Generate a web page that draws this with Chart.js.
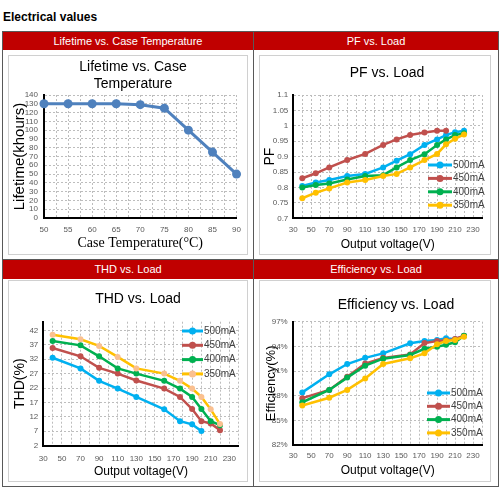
<!DOCTYPE html>
<html>
<head>
<meta charset="utf-8">
<script src="https://cdn.jsdelivr.net/npm/chart.js@4.4.1/dist/chart.umd.min.js"></script>
<style>
body{margin:0;background:#fff;font-family:"Liberation Sans",Arial,sans-serif;}
#page{position:relative;width:500px;height:500px;overflow:hidden;}
.abs{position:absolute;box-sizing:border-box;}
.heading{left:3px;top:9px;font-size:12px;font-weight:bold;color:#000;line-height:16px;}
.frame{left:2px;top:31px;width:497px;height:456px;border:1px solid #595959;}
.line{background:#595959;}
.bar{background:#c00000;color:#fff;font-size:11px;text-align:center;}
.box{border:1px solid #d0d0d0;background:#fff;}
.title{width:200px;text-align:center;font-size:14px;line-height:17px;color:#000;}
.wrap{position:absolute;}
</style>
</head>
<body>
<div id="page">
  <div class="abs heading">Electrical values</div>
  <div class="abs frame"></div>
  <div class="abs line" style="left:253px;top:31px;width:1px;height:455px;"></div>
  <div class="abs line" style="left:3px;top:259px;width:495px;height:1px;"></div>

  <div class="abs bar" style="left:3px;top:32px;width:250px;height:18px;line-height:18px;">Lifetime vs. Case Temperature</div>
  <div class="abs bar" style="left:254px;top:32px;width:244px;height:18px;line-height:18px;">PF vs. Load</div>
  <div class="abs bar" style="left:3px;top:260px;width:250px;height:19px;line-height:19px;">THD vs. Load</div>
  <div class="abs bar" style="left:254px;top:260px;width:244px;height:19px;line-height:19px;">Efficiency vs. Load</div>

  <div class="abs box" style="left:8px;top:55px;width:240px;height:200px;"></div>
  <div class="abs box" style="left:259px;top:55px;width:232px;height:200px;"></div>
  <div class="abs box" style="left:8px;top:280px;width:240px;height:202px;"></div>
  <div class="abs box" style="left:259px;top:280px;width:232px;height:202px;"></div>

  <div class="wrap" style="left:8px;top:55px;width:240px;height:200px;"><canvas id="lifeChart"></canvas></div>
  <div class="wrap" style="left:259px;top:55px;width:232px;height:200px;"><canvas id="pfChart"></canvas></div>
  <div class="wrap" style="left:8px;top:280px;width:240px;height:202px;"><canvas id="thdChart"></canvas></div>
  <div class="wrap" style="left:259px;top:280px;width:232px;height:202px;"><canvas id="effChart"></canvas></div>

  <div class="abs title" style="left:33px;top:58px;">Lifetime vs. Case<br>Temperature</div>
  <div class="abs title" style="left:287px;top:64px;">PF vs. Load</div>
  <div class="abs title" style="left:38px;top:290px;">THD vs. Load</div>
  <div class="abs title" style="left:296px;top:296px;">Efficiency vs. Load</div>
</div>

<script>
// lifetime
const lifeTemp = [50, 55, 60, 65, 70, 75, 80, 85, 90];
const lifeHours = [130, 130, 130, 130, 129, 125, 100, 75, 50];
const lifeXTicks = [50, 52.5, 55, 57.5, 60, 62.5, 65, 67.5, 70, 72.5, 75, 77.5, 80, 82.5, 85, 87.5, 90];
const lifeXLabels = [50, 55, 60, 65, 70, 75, 80, 85, 90];
const lifeYTicks = [0, 10, 20, 30, 40, 50, 60, 70, 80, 90, 100, 110, 120, 130, 140];

// shared output voltage axis
const voltTicks = [30, 40, 50, 60, 70, 80, 90, 100, 110, 120, 130, 140, 150, 160, 170, 180, 190, 200, 210, 220, 230, 240];
const voltLabels = [30, 50, 70, 90, 110, 130, 150, 170, 190, 210, 230];

const seriesNames = ["500mA", "450mA", "400mA", "350mA"];
const seriesColors = ["#00b0f0", "#c0504d", "#00b050", "#ffc000"];

// PF
const pfVolt = [40, 55, 70, 90, 110, 130, 145, 160, 176, 190, 200, 210, 220];
const pf500 = [0.805, 0.816, 0.824, 0.837, 0.844, 0.865, 0.887, 0.908, 0.938, 0.956, 0.97, 0.979, 0.984];
const pf450 = [0.830, 0.846, 0.865, 0.889, 0.909, 0.938, 0.956, 0.970, 0.978, 0.984, 0.984];
const pf400 = [0.800, 0.808, 0.813, 0.826, 0.837, 0.840, 0.865, 0.889, 0.908, 0.938, 0.956, 0.970, 0.976];
const pf350 = [0.765, 0.783, 0.797, 0.816, 0.824, 0.837, 0.844, 0.865, 0.889, 0.909, 0.940, 0.958, 0.972];
const pfTicks = [0.7, 0.75, 0.8, 0.85, 0.9, 0.95, 1, 1.05, 1.1];

// THD
const thdVolt500 = [40, 70, 90, 110, 130, 160, 177, 190, 200];
const thdVolt = [40, 70, 90, 110, 130, 160, 177, 190, 200, 210, 220];
const thd500 = [32.5, 28.8, 24.5, 21.8, 18.9, 14.6, 10.5, 9.4, 7.1];
const thd450 = [35.9, 33.0, 29.0, 27.0, 24.6, 21.8, 18.9, 14.7, 10.5, 9.7, 7.4];
const thd400 = [38.3, 36.8, 33.0, 28.8, 27.0, 24.5, 21.8, 18.9, 14.7, 10.5, 9.1];
const thd350 = [40.5, 38.9, 36.6, 32.8, 28.8, 27.0, 24.5, 21.8, 18.9, 14.6, 9.5];
const thdTicks = [2, 7, 12, 17, 22, 27, 32, 37, 42];

// Efficiency
const effVolt = [40, 70, 90, 110, 130, 160, 176, 190, 200, 210, 220];
const eff500 = [88.4, 90.6, 91.85, 92.6, 93.15, 94.37, 94.65, 94.77, 94.98, 94.86, 95.26];
const eff450 = [87.7, 88.7, 90.3, 91.9, 92.6, 93.0, 94.4, 94.65, 94.7, 94.9, 95.3];
const eff400 = [87.2, 88.7, 90.2, 91.65, 92.5, 92.95, 93.7, 93.96, 94.2, 94.5, 95.3];
const eff350 = [86.8, 87.75, 88.7, 90.1, 91.85, 92.55, 93.15, 94.25, 94.65, 94.77, 95.17];
const effTicks = [82, 85, 88, 91, 94, 97];

Chart.defaults.font.family = "'Liberation Sans', Arial, sans-serif";
Chart.defaults.color = "#595959";

// legend drawn inside the plot, like the Excel originals
const inlineLegend = {
    id: "inlineLegend",
    afterDraw(chart, args, opts){
        if(opts.x === undefined){
            return;
        }
        const ctx = chart.ctx;
        ctx.save();
        chart.data.datasets.forEach((ds, i) => {
            const y = opts.y + i * opts.rowH;
            ctx.strokeStyle = ds.borderColor;
            ctx.lineWidth = 3;
            ctx.beginPath();
            ctx.moveTo(opts.x, y);
            ctx.lineTo(opts.x + opts.len, y);
            ctx.stroke();
            ctx.fillStyle = ds.pointBackgroundColor;
            ctx.beginPath();
            ctx.arc(opts.x + opts.len / 2, y, ds.pointRadius + 0.5, 0, Math.PI * 2);
            ctx.fill();
            ctx.fillStyle = "#404040";
            ctx.font = "10px 'Liberation Sans', Arial, sans-serif";
            ctx.textAlign = "left";
            ctx.textBaseline = "middle";
            ctx.fillText(ds.label, opts.x + opts.len + 1, y);
        });
        ctx.restore();
    }
};
Chart.register(inlineLegend);

function series(label, xs, ys, color, dot, order){
    return {
        label: label,
        data: xs.map((x, i) => ({x: x, y: ys[i]})),
        borderColor: color,
        backgroundColor: color,
        pointBackgroundColor: dot || color,
        pointBorderColor: dot || color,
        borderWidth: 2.5,
        pointRadius: 3,
        pointBorderWidth: 0,
        tension: 0,
        fill: false,
        clip: false,
        order: order
    };
}

function makeChart(id, cfg){
    return new Chart(document.getElementById(id), {
        type: "line",
        data: {datasets: cfg.datasets},
        options: {
            responsive: true,
            maintainAspectRatio: false,
            animation: false,
            layout: {padding: {top: cfg.top, right: cfg.right, left: 0, bottom: 0}},
            plugins: {
                legend: {display: false},
                tooltip: {enabled: false},
                title: {display: false},
                inlineLegend: cfg.legend || {}
            },
            scales: {
                x: {
                    type: "linear",
                    min: cfg.xMin,
                    max: cfg.xMax,
                    afterBuildTicks: a => { a.ticks = cfg.xTicks.map(v => ({value: v})); },
                    afterFit: a => { a.height = cfg.xHeight; },
                    ticks: {
                        autoSkip: false,
                        maxRotation: 0,
                        padding: cfg.xTickPad,
                        font: {size: 8},
                        color: "#595959",
                        callback: v => cfg.xLabels.includes(v) ? String(v) : ""
                    },
                    grid: {color: "#bdbdbd", lineWidth: 1, drawTicks: false},
                    border: {color: "#000", width: 2, dash: [2, 2]},
                    title: {
                        display: true,
                        text: cfg.xTitle,
                        color: "#000",
                        font: cfg.xTitleFont,
                        padding: {top: 0, bottom: cfg.xTitlePad}
                    }
                },
                y: {
                    type: "linear",
                    min: cfg.yMin,
                    max: cfg.yMax,
                    afterBuildTicks: a => { a.ticks = cfg.yTicks.map(v => ({value: v})); },
                    afterFit: a => { a.width = cfg.yWidth; },
                    ticks: {
                        autoSkip: false,
                        padding: cfg.yTickPad,
                        font: {size: 8},
                        color: "#595959",
                        callback: cfg.yFormat
                    },
                    grid: {color: "#bdbdbd", lineWidth: 1, drawTicks: false},
                    border: {color: "#000", width: 2, dash: [2, 2]},
                    title: {
                        display: true,
                        text: cfg.yTitle,
                        color: "#000",
                        font: {size: cfg.yTitleSize},
                        padding: {top: cfg.yTitlePad, bottom: 0}
                    }
                }
            }
        }
    });
}

const lifeSet = series("Lifetime", lifeTemp, lifeHours, "#4f81bd", null, 0);
lifeSet.borderWidth = 3;
lifeSet.pointRadius = 4.5;

makeChart("lifeChart", {
    datasets: [lifeSet],
    top: 40, right: 10, yWidth: 36, xHeight: 37,
    xMin: 50, xMax: 90, xTicks: lifeXTicks, xLabels: lifeXLabels, xTickPad: 7,
    xTitle: "Case Temperature(\u00B0C)", xTitleFont: {size: 14, family: "'Liberation Serif', 'Times New Roman', serif"}, xTitlePad: 3.6,
    yMin: 0, yMax: 140, yTicks: lifeYTicks, yTickPad: 6, yFormat: v => String(v),
    yTitle: "Lifetime(khours)", yTitleSize: 15, yTitlePad: 3
});

makeChart("pfChart", {
    datasets: [
        series(seriesNames[0], pfVolt, pf500, seriesColors[0], null, 3),
        series(seriesNames[1], pfVolt, pf450, seriesColors[1], null, 2),
        series(seriesNames[2], pfVolt, pf400, seriesColors[2], null, 1),
        series(seriesNames[3], pfVolt, pf350, seriesColors[3], null, 0)
    ],
    top: 40, right: 9, yWidth: 34.3, xHeight: 36.7,
    xMin: 30, xMax: 240, xTicks: voltTicks, xLabels: voltLabels, xTickPad: 7,
    xTitle: "Output voltage(V)", xTitleFont: {size: 12}, xTitlePad: 2.8,
    yMin: 0.7, yMax: 1.1, yTicks: pfTicks, yTickPad: 5, yFormat: v => String(v),
    yTitle: "PF", yTitleSize: 14, yTitlePad: 2.6,
    legend: {x: 169, y: 110, rowH: 13.4, len: 24}
});

makeChart("thdChart", {
    datasets: [
        series(seriesNames[0], thdVolt500, thd500, seriesColors[0], null, 3),
        series(seriesNames[1], thdVolt, thd450, seriesColors[1], null, 2),
        series(seriesNames[2], thdVolt, thd400, seriesColors[2], null, 1),
        series(seriesNames[3], thdVolt, thd350, seriesColors[3], "#fac090", 0)
    ],
    top: 41.7, right: 9.4, yWidth: 35.3, xHeight: 36.3,
    xMin: 30, xMax: 240, xTicks: voltTicks, xLabels: voltLabels, xTickPad: 7.8,
    xTitle: "Output voltage(V)", xTitleFont: {size: 12}, xTitlePad: 3.1,
    yMin: 2, yMax: 45, yTicks: thdTicks, yTickPad: 5, yFormat: v => String(v),
    yTitle: "THD(%)", yTitleSize: 14, yTitlePad: 3.6,
    legend: {x: 174, y: 51, rowH: 14.3, len: 21}
});

makeChart("effChart", {
    datasets: [
        series(seriesNames[0], effVolt, eff500, seriesColors[0], null, 3),
        series(seriesNames[1], effVolt, eff450, seriesColors[1], null, 2),
        series(seriesNames[2], effVolt, eff400, seriesColors[2], null, 1),
        series(seriesNames[3], effVolt, eff350, seriesColors[3], null, 0)
    ],
    top: 41.7, right: 9, yWidth: 34.3, xHeight: 37,
    xMin: 30, xMax: 240, xTicks: voltTicks, xLabels: voltLabels, xTickPad: 6.2,
    xTitle: "Output voltage(V)", xTitleFont: {size: 12}, xTitlePad: 3.8,
    yMin: 82, yMax: 97, yTicks: effTicks, yTickPad: 5.6, yFormat: v => v + "%",
    yTitle: "Efficiency(%)", yTitleSize: 13, yTitlePad: 4.9,
    legend: {x: 168, y: 113, rowH: 13.3, len: 23}
});
</script>
</body>
</html>
